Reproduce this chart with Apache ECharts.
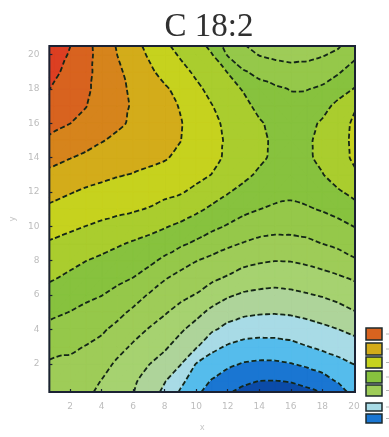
<!DOCTYPE html>
<html>
<head>
<meta charset="utf-8">
<title>C 18:2</title>
<script src="https://cdn.jsdelivr.net/npm/echarts@6.0.0/dist/echarts.min.js"></script>
<style>
  html, body { margin: 0; padding: 0; background: #ffffff; }
  #chart { width: 389px; height: 437px; }
</style>
</head>
<body>
<div id="chart"></div>
<script>
// Axis ticks
const xTicks = [2, 4, 6, 8, 10, 12, 14, 16, 18, 20];
const yTicks = [2, 4, 6, 8, 10, 12, 14, 16, 18, 20];

// Visible window of the surface
const xRange = [0.69, 20.07];
const yRange = [0.36, 20.5];

// Isoline levels
const levels = [0, 1, 2, 3, 4, 5, 6, 7, 8, 9, 10, 11, 12, 13];

// Sample grid
const xNodes = [0, 1, 2, 3, 4, 5, 6, 7, 8, 9, 10, 11, 12, 13, 14, 15, 16, 17, 18, 19, 20, 21];
const yNodes = [0, 1, 2, 3, 4, 5, 6, 7, 8, 9, 10, 11, 12, 13, 14, 15, 16, 17, 18, 19, 20, 21];

// Surface values, one row per x node, listed from y = 0 upwards
const zByX = [
  [5.45, 5.65, 6.0, 6.45, 6.9, 7.35, 7.8, 8.22, 8.6, 9.02, 9.47, 9.95, 10.41, 10.89, 11.45, 12.03, 12.46, 12.92, 13.4, 13.8, 14.3, 14.7],
  [5.38, 5.58, 5.85, 6.27, 6.7, 7.15, 7.6, 8.05, 8.44, 8.86, 9.32, 9.79, 10.24, 10.73, 11.25, 11.78, 12.2, 12.53, 12.85, 13.2, 13.55, 14.0],
  [5.3, 5.56, 5.83, 6.15, 6.55, 6.98, 7.4, 7.82, 8.24, 8.7, 9.15, 9.62, 10.05, 10.54, 11.03, 11.51, 12.01, 12.23, 12.46, 12.67, 12.89, 13.15],
  [5.1, 5.38, 5.68, 5.97, 6.36, 6.77, 7.19, 7.6, 8.01, 8.49, 8.99, 9.44, 9.87, 10.35, 10.84, 11.3, 11.75, 12.03, 12.15, 12.22, 12.27, 12.45],
  [4.72, 4.97, 5.35, 5.74, 6.13, 6.58, 7.02, 7.44, 7.83, 8.3, 8.83, 9.31, 9.74, 10.2, 10.63, 11.05, 11.5, 11.63, 11.69, 11.7, 11.68, 11.65],
  [4.35, 4.54, 4.85, 5.31, 5.76, 6.25, 6.74, 7.21, 7.63, 8.1, 8.68, 9.2, 9.63, 10.06, 10.45, 10.81, 11.16, 11.26, 11.24, 11.17, 10.99, 10.81],
  [3.97, 4.15, 4.5, 4.88, 5.33, 5.83, 6.39, 6.99, 7.45, 7.9, 8.5, 9.1, 9.51, 9.95, 10.39, 10.64, 10.86, 10.91, 10.84, 10.68, 10.43, 10.19],
  [3.37, 3.6, 4.03, 4.5, 4.95, 5.44, 5.93, 6.61, 7.2, 7.71, 8.29, 8.95, 9.38, 9.83, 10.2, 10.5, 10.59, 10.59, 10.48, 10.2, 9.9, 9.62],
  [2.6, 3.06, 3.6, 4.14, 4.59, 5.08, 5.56, 6.07, 6.81, 7.46, 8.07, 8.71, 9.22, 9.65, 10.08, 10.26, 10.31, 10.27, 10.13, 9.68, 9.39, 8.98],
  [1.7, 2.24, 3.06, 3.61, 4.13, 4.7, 5.23, 5.73, 6.35, 7.16, 7.82, 8.5, 9.08, 9.44, 9.8, 10.02, 10.05, 9.95, 9.69, 9.3, 8.89, 8.62],
  [1.01, 1.47, 1.97, 3.1, 3.65, 4.27, 4.95, 5.5, 6.02, 6.84, 7.53, 8.18, 8.79, 9.25, 9.52, 9.65, 9.63, 9.49, 9.2, 8.83, 8.47, 8.15],
  [0.39, 0.93, 1.54, 2.26, 3.14, 3.77, 4.48, 5.19, 5.76, 6.48, 7.22, 7.84, 8.4, 8.98, 9.2, 9.26, 9.2, 9.03, 8.73, 8.4, 8.04, 7.37],
  [-0.1, 0.47, 1.2, 1.9, 2.7, 3.43, 4.11, 4.9, 5.52, 6.17, 6.92, 7.53, 8.06, 8.59, 8.87, 8.89, 8.82, 8.63, 8.34, 7.97, 6.91, 6.47],
  [-0.3, 0.12, 0.93, 1.68, 2.43, 3.21, 3.87, 4.58, 5.26, 5.95, 6.62, 7.23, 7.72, 8.23, 8.53, 8.54, 8.47, 8.25, 7.93, 7.08, 6.36, 5.8],
  [-0.45, -0.01, 0.84, 1.62, 2.35, 3.1, 3.77, 4.45, 5.1, 5.76, 6.39, 7.01, 7.41, 7.84, 8.18, 8.19, 8.1, 7.77, 7.29, 6.78, 5.95, 5.24],
  [-0.5, -0.02, 0.85, 1.64, 2.35, 3.07, 3.72, 4.37, 5.01, 5.68, 6.29, 6.85, 7.3, 7.62, 7.81, 7.85, 7.75, 7.51, 7.15, 6.48, 5.79, 5.1],
  [-0.45, 0.04, 0.97, 1.75, 2.43, 3.12, 3.79, 4.43, 5.03, 5.7, 6.29, 6.82, 7.17, 7.38, 7.48, 7.49, 7.41, 7.24, 6.96, 6.36, 5.69, 5.1],
  [-0.35, 0.2, 1.2, 1.97, 2.6, 3.26, 3.92, 4.55, 5.15, 5.8, 6.37, 6.9, 7.33, 7.65, 7.82, 7.84, 7.71, 7.42, 6.96, 6.38, 5.75, 5.15],
  [-0.2, 0.57, 1.48, 2.17, 2.79, 3.43, 4.07, 4.7, 5.32, 6.01, 6.54, 7.07, 7.5, 7.95, 8.25, 8.26, 8.13, 7.66, 7.14, 6.56, 5.92, 5.5],
  [-0.02, 1.11, 1.74, 2.37, 2.99, 3.65, 4.28, 4.88, 5.55, 6.21, 6.74, 7.3, 7.88, 8.47, 8.67, 8.68, 8.61, 8.28, 7.55, 6.9, 6.2, 5.6],
  [1.05, 1.43, 2.02, 2.62, 3.22, 3.94, 4.51, 5.1, 5.88, 6.47, 7.01, 7.65, 8.25, 8.86, 9.12, 9.15, 9.12, 8.9, 8.03, 7.4, 6.77, 6.2],
  [1.4, 1.9, 2.5, 3.1, 3.7, 4.35, 4.95, 5.6, 6.3, 6.9, 7.5, 8.1, 8.7, 9.3, 9.55, 9.6, 9.55, 9.3, 8.6, 7.9, 7.2, 6.6]
];

// Fill colours: [z < 0, 0-1, 1-2, ..., 12-13, z >= 13]
const bandColors = [
  '#0b4ba8', '#1a76d2', '#55bcec', '#a8dbe6', '#aed49a', '#a6d270', '#9ecc58',
  '#95c84a', '#87c23e', '#aacd2e', '#c6d21e', '#d3ac1a', '#d6841c', '#d8631f', '#dc3f22'
];

// Colour key entries (indices into bandColors)
const keySwatches = [13, 11, 10, 8, 6, 3, 1];

// Keep the part of a polygon where f(v) >= 0, interpolating along crossed edges
function clipPoly(poly, f) {
  const out = [];
  for (let k = 0; k < poly.length; k++) {
    const p = poly[k], q = poly[(k + 1) % poly.length];
    const fp = f(p), fq = f(q);
    if (fp >= 0) out.push(p);
    if ((fp >= 0) !== (fq >= 0)) {
      const t = fp / (fp - fq);
      out.push({ x: p.x + t * (q.x - p.x), y: p.y + t * (q.y - p.y), z: p.z + t * (q.z - p.z) });
    }
  }
  return out;
}

// Join isoline pieces that share a grid edge into continuous lines
function chainSegments(segs) {
  const byKey = new Map();
  segs.forEach((s, i) => {
    s.forEach(p => {
      if (!byKey.has(p.key)) byKey.set(p.key, []);
      byKey.get(p.key).push(i);
    });
  });
  const used = new Array(segs.length).fill(false);
  const lines = [];
  const walk = (startKey, push) => {
    let key = startKey;
    for (;;) {
      const next = (byKey.get(key) || []).find(j => !used[j]);
      if (next === undefined) break;
      used[next] = true;
      const s = segs[next];
      const far = s[0].key === key ? s[1] : s[0];
      push(far);
      key = far.key;
    }
  };
  for (let i = 0; i < segs.length; i++) {
    if (used[i]) continue;
    used[i] = true;
    const pts = [segs[i][0], segs[i][1]];
    walk(segs[i][1].key, p => pts.push(p));
    walk(segs[i][0].key, p => pts.unshift(p));
    lines.push(pts);
  }
  return lines;
}

// Cut a line to the visible window; may split it into several runs
function clipLine(pts) {
  const [X0, X1] = xRange, [Y0, Y1] = yRange;
  const runs = [];
  let cur = [];
  const flush = () => { if (cur.length > 1) runs.push(cur); cur = []; };
  for (let k = 0; k < pts.length - 1; k++) {
    const p = pts[k], q = pts[k + 1];
    const dx = q.x - p.x, dy = q.y - p.y;
    let t0 = 0, t1 = 1, ok = true;
    [[-dx, p.x - X0], [dx, X1 - p.x], [-dy, p.y - Y0], [dy, Y1 - p.y]].forEach(([pp, qq]) => {
      if (!ok) return;
      if (pp === 0) { if (qq < 0) ok = false; return; }
      const r = qq / pp;
      if (pp < 0) { if (r > t1) ok = false; else if (r > t0) t0 = r; }
      else { if (r < t0) ok = false; else if (r < t1) t1 = r; }
    });
    if (!ok) { flush(); continue; }
    const a = { x: p.x + t0 * dx, y: p.y + t0 * dy };
    const b = { x: p.x + t1 * dx, y: p.y + t1 * dy };
    if (cur.length === 0 || t0 > 0) { flush(); cur = [a]; }
    cur.push(b);
    if (t1 < 1) flush();
  }
  flush();
  return runs;
}

function renderSurface(params, api) {
  const [X0, X1] = xRange, [Y0, Y1] = yRange;
  const ny = yNodes.length;
  const lo = levels[0], hi = levels[levels.length - 1];
  const bandPolys = bandColors.map(() => []);
  const segs = levels.map(() => []);
  const rectClips = [v => v.x - X0, v => X1 - v.x, v => v.y - Y0, v => Y1 - v.y];
  const node = (i, j) => ({ x: xNodes[i], y: yNodes[j], z: zByX[i][j], id: i * ny + j });

  const addTriangle = tri => {
    const xs = tri.map(v => v.x), ys = tri.map(v => v.y);
    if (Math.max(...xs) < X0 || Math.min(...xs) > X1 || Math.max(...ys) < Y0 || Math.min(...ys) > Y1) return;
    const zs = tri.map(v => v.z);
    const zmin = Math.min(...zs), zmax = Math.max(...zs);
    const bLo = Math.max(lo - 1, Math.min(hi, Math.floor(zmin)));
    const bHi = Math.max(lo - 1, Math.min(hi, Math.floor(zmax)));
    for (let b = bLo; b <= bHi; b++) {
      let poly = tri;
      if (b >= lo) poly = clipPoly(poly, v => v.z - b);
      if (b < hi) poly = clipPoly(poly, v => (b + 1) - v.z);
      for (const f of rectClips) { if (poly.length < 3) break; poly = clipPoly(poly, f); }
      if (poly.length >= 3) bandPolys[b - lo + 1].push(poly);
    }
    levels.forEach((c, li) => {
      if (zmin > c || zmax < c) return;
      const pts = [];
      for (let e = 0; e < 3; e++) {
        const p = tri[e], q = tri[(e + 1) % 3];
        if ((p.z >= c) !== (q.z >= c)) {
          const t = (c - p.z) / (q.z - p.z);
          pts.push({
            x: p.x + t * (q.x - p.x),
            y: p.y + t * (q.y - p.y),
            key: Math.min(p.id, q.id) + '-' + Math.max(p.id, q.id)
          });
        }
      }
      if (pts.length === 2) segs[li].push(pts);
    });
  };

  for (let i = 0; i < xNodes.length - 1; i++) {
    for (let j = 0; j < yNodes.length - 1; j++) {
      const a = node(i, j), b = node(i + 1, j), c = node(i + 1, j + 1), d = node(i, j + 1);
      if (Math.abs(a.z - c.z) <= Math.abs(b.z - d.z)) { addTriangle([a, b, c]); addTriangle([a, c, d]); }
      else { addTriangle([a, b, d]); addTriangle([b, c, d]); }
    }
  }

  const px = v => api.coord([v.x, v.y]);
  const children = [];

  bandPolys.forEach((polys, k) => {
    if (!polys.length) return;
    let d = '';
    polys.forEach(poly => {
      poly.forEach((v, n) => {
        const p = px(v);
        d += (n === 0 ? 'M' : 'L') + p[0].toFixed(2) + ' ' + p[1].toFixed(2);
      });
      d += 'Z';
    });
    children.push({
      type: 'path',
      shape: { pathData: d },
      style: { fill: bandColors[k], stroke: bandColors[k], lineWidth: 0.8 }
    });
  });

  segs.forEach(levelSegs => {
    chainSegments(levelSegs).forEach(line => {
      clipLine(line).forEach(run => {
        children.push({
          type: 'polyline',
          shape: { points: run.map(px), smooth: 0.25 },
          style: { stroke: '#142618', lineWidth: 1.8, lineDash: [5, 2.6], fill: null }
        });
      });
    });
  });

  const tl = api.coord([X0, Y1]), br = api.coord([X1, Y0]);
  children.push({
    type: 'rect',
    shape: { x: tl[0], y: tl[1], width: br[0] - tl[0], height: br[1] - tl[1] },
    style: { fill: null, stroke: '#1b2233', lineWidth: 2 }
  });

  return { type: 'group', children };
}

// Colour key at the lower right
const keyLayout = [
  [328, 12], [343, 12], [357, 11], [371, 12], [385, 11], [403, 8], [414, 9]
];
const keyGraphics = [];
keySwatches.forEach((ci, n) => {
  const [top, h] = keyLayout[n];
  keyGraphics.push({
    type: 'rect',
    shape: { x: 366, y: top, width: 16, height: h },
    style: { fill: bandColors[ci], stroke: '#1c2a2c', lineWidth: 1.5 }
  });
  keyGraphics.push({
    type: 'line',
    shape: { x1: 386, y1: top + h / 2, x2: 389, y2: top + h / 2 },
    style: { stroke: '#b8b8b8', lineWidth: 1 }
  });
});
keyGraphics.push({
  type: 'text',
  style: {
    text: 'C 18:2', x: 209, y: 27,
    align: 'center', verticalAlign: 'middle',
    textAlign: 'center', textVerticalAlign: 'middle',
    font: '33px "Liberation Serif", serif', fill: '#303030'
  }
});

const axisLabelStyle = { color: '#bdbdbd', fontSize: 9, fontFamily: 'DejaVu Sans' };

const chart = echarts.init(document.getElementById('chart'), null, { renderer: 'canvas' });
chart.setOption({
  animation: false,
  backgroundColor: '#ffffff',
  grid: { left: 44, top: 46, width: 311, height: 357, containLabel: false },
  xAxis: {
    type: 'value', min: xRange[0], max: xRange[1], z: 10,
    name: 'x', nameLocation: 'middle', nameGap: 31,
    nameTextStyle: { color: '#c4c4c4', fontSize: 9 },
    axisLine: { show: false },
    splitLine: { show: false },
    axisTick: { show: true, inside: true, length: 3, customValues: xTicks, lineStyle: { color: '#1b2233', width: 1.2 } },
    axisLabel: Object.assign({ customValues: xTicks, margin: 10 }, axisLabelStyle)
  },
  yAxis: {
    type: 'value', min: yRange[0], max: yRange[1], z: 10,
    name: 'y', nameLocation: 'middle', nameGap: 17, nameRotate: 90,
    nameTextStyle: { color: '#c4c4c4', fontSize: 9 },
    axisLine: { show: false },
    splitLine: { show: false },
    axisTick: { show: true, inside: true, length: 3, customValues: yTicks, lineStyle: { color: '#1b2233', width: 1.2 } },
    axisLabel: Object.assign({ customValues: yTicks, margin: 10 }, axisLabelStyle)
  },
  graphic: keyGraphics,
  series: [{
    type: 'custom',
    coordinateSystem: 'cartesian2d',
    silent: true,
    data: [[xRange[0], yRange[0]]],
    renderItem: renderSurface
  }]
});
</script>
</body>
</html>
